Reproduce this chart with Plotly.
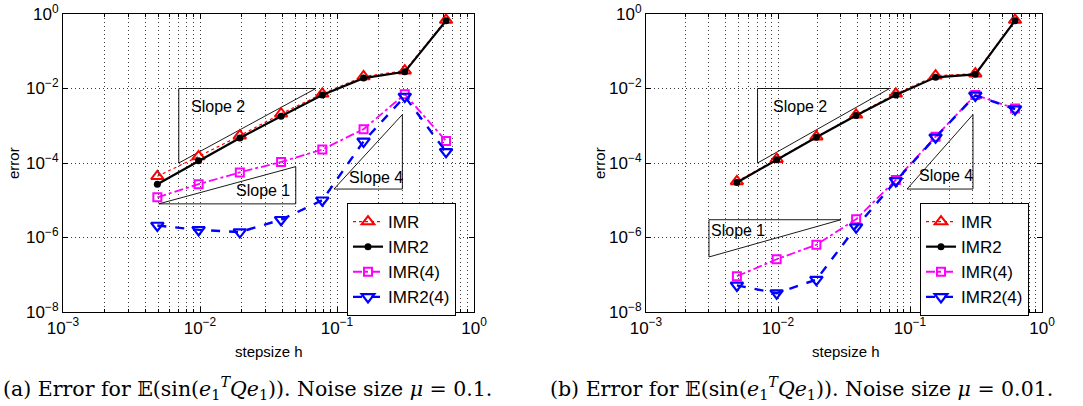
import math
import plotly.graph_objects as go

# ---- data ----
h = [0.625 / 2 ** k for k in range(7, -1, -1)]  # stepsizes 0.0049 ... 0.625

a_imr = [4.4e-5, 1.5e-4, 5.4e-4, 2.1e-3, 7.2e-3, 2.1e-2, 3.0e-2, 0.69]
a_imr2 = [2.7e-5, 1.15e-4, 4.7e-4, 1.8e-3, 6.7e-3, 1.9e-2, 2.8e-2, 0.66]
a_imr4 = [1.2e-5, 2.7e-5, 5.6e-5, 1.07e-4, 2.3e-4, 8.1e-4, 7.0e-3, 3.9e-4]
a_imr24 = [2.1e-6, 1.6e-6, 1.4e-6, 3.0e-6, 1.0e-5, 3.8e-4, 6.1e-3, 2.0e-4]

b_imr = [3.2e-5, 1.27e-4, 5.1e-4, 1.96e-3, 7.2e-3, 2.2e-2, 2.5e-2, 0.69]
b_imr2 = [3.0e-5, 1.22e-4, 4.9e-4, 1.88e-3, 6.7e-3, 2.0e-2, 2.4e-2, 0.66]
b_imr4 = [9.1e-8, 2.6e-7, 6.4e-7, 3.1e-6, 3.5e-5, 5.1e-4, 6.7e-3, 2.9e-3]
b_imr24 = [5.2e-8, 3.2e-8, 7.4e-8, 1.9e-6, 3.3e-5, 4.9e-4, 6.5e-3, 2.8e-3]

# reference slope triangles (data coordinates)
slope2_x = [0.007, 0.07, 0.007, 0.007]
slope2_y = [1e-4, 1e-2, 1e-2, 1e-4]
a_slope1_x = [0.005, 0.05, 0.05, 0.005]
a_slope1_y = [8e-6, 8e-5, 8e-6, 8e-6]
slope4_x = [0.095, 0.3, 0.3, 0.095]
slope4_y = [2e-5, 2e-3, 2e-5, 2e-5]
b_slope1_x = [0.003, 0.03, 0.003, 0.003]
b_slope1_y = [3e-7, 3e-6, 3e-6, 3e-7]

# slope label anchor points (data coordinates)
a_slope_labels = [("Slope 2", 0.0135, 3.2e-3), ("Slope 1", 0.0288, 1.8e-5), ("Slope 4", 0.193, 4.0e-5)]
b_slope_labels = [("Slope 2", 0.0148, 3.2e-3), ("Slope 1", 0.0050, 1.55e-6), ("Slope 4", 0.188, 4.7e-5)]

x_ticks = [1e-3, 1e-2, 1e-1, 1]
x_ticktext = ["10<sup>−3</sup>", "10<sup>−2</sup>", "10<sup>−1</sup>", "10<sup>0</sup>"]
x_minor = [m * 10 ** e for e in (-3, -2, -1) for m in range(2, 10)]
y_ticks = [1e-8, 1e-6, 1e-4, 1e-2, 1]
y_ticktext = ["10<sup>−8</sup>", "10<sup>−6</sup>", "10<sup>−4</sup>", "10<sup>−2</sup>", "10<sup>0</sup>"]

names = ["IMR", "IMR2", "IMR(4)", "IMR2(4)"]
captions = [
    "(a) Error for 𝔼(sin(<i>e</i><sub>1</sub><sup><i>T</i></sup><i>Qe</i><sub>1</sub>)). Noise size <i>μ</i> = 0.1.",
    "(b) Error for 𝔼(sin(<i>e</i><sub>1</sub><sup><i>T</i></sup><i>Qe</i><sub>1</sub>)). Noise size <i>μ</i> = 0.01.",
]

# ---- styles ----
SANS = "Liberation Sans, Arial, sans-serif"
styles = [
    dict(line=dict(color="#ff0000", width=1.2, dash="dot"),
         marker=dict(symbol="triangle-up-open", size=11, color="#ff0000", line=dict(width=2))),
    dict(line=dict(color="#000000", width=2.2, dash="solid"),
         marker=dict(symbol="circle", size=7, color="#000000")),
    dict(line=dict(color="#ff00ff", width=1.8, dash="dashdot"),
         marker=dict(symbol="square-open", size=8, color="#ff00ff", line=dict(width=2))),
    dict(line=dict(color="#0000ff", width=2.4, dash="dash"),
         marker=dict(symbol="triangle-down-open", size=11, color="#0000ff", line=dict(width=2.2))),
]

fig = go.Figure()

panels = [
    ("x", "y", "legend", [a_imr, a_imr2, a_imr4, a_imr24],
     [(slope2_x, slope2_y), (a_slope1_x, a_slope1_y), (slope4_x, slope4_y)], a_slope_labels),
    ("x2", "y2", "legend2", [b_imr, b_imr2, b_imr4, b_imr24],
     [(slope2_x, slope2_y), (b_slope1_x, b_slope1_y), (slope4_x, slope4_y)], b_slope_labels),
]

for xa, ya, leg, series, tris, labels in panels:
    for tx, ty in tris:
        fig.add_trace(go.Scatter(x=tx, y=ty, mode="lines", xaxis=xa, yaxis=ya,
                                 line=dict(color="black", width=0.9), showlegend=False,
                                 hoverinfo="skip"))
    for name, ys, st in zip(names, series, styles):
        fig.add_trace(go.Scatter(x=h, y=ys, name=name, mode="lines+markers", xaxis=xa, yaxis=ya,
                                 legend=leg, **st))
    for txt, lx, ly in labels:
        fig.add_annotation(text=txt, x=math.log10(lx), y=math.log10(ly), xref=xa, yref=ya,
                           xanchor="center", yanchor="middle",
                           showarrow=False, font=dict(size=16, color="black", family=SANS))

grid_style = dict(showgrid=True, gridcolor="#3a3a3a", griddash="1px,3px", gridwidth=1)
axis_common = dict(type="log", showline=True, linecolor="black", linewidth=1.2, mirror="allticks",
                   ticks="inside", ticklen=5, tickcolor="black", zeroline=False, automargin=False,
                   tickmode="array",
                   tickfont=dict(size=17, color="black", family=SANS), **grid_style)
x_minor_cfg = dict(tickmode="array", tickvals=x_minor, ticks="inside", ticklen=3,
                   tickcolor="black", **grid_style)

xd1 = [63 / 1083, 474 / 1083]
xd2 = [646 / 1083, 1042 / 1083]
yd = [(406 - 312) / 406, (406 - 14) / 406]

leg_common = dict(xanchor="left", yanchor="top", bordercolor="black", borderwidth=1, bgcolor="white",
                  font=dict(size=17, family=SANS), tracegroupgap=0, itemwidth=30)

fig.update_layout(
    width=1083, height=406, margin=dict(l=0, r=0, t=0, b=0, autoexpand=False),
    paper_bgcolor="white", plot_bgcolor="white",
    font=dict(family=SANS, color="black"),
    xaxis=dict(domain=xd1, range=[-3, 0], tickvals=x_ticks, ticktext=x_ticktext, anchor="y",
               minor=x_minor_cfg, **axis_common),
    yaxis=dict(domain=yd, range=[-8, 0], tickvals=y_ticks, ticktext=y_ticktext, anchor="x", **axis_common),
    xaxis2=dict(domain=xd2, range=[-3, 0], tickvals=x_ticks, ticktext=x_ticktext, anchor="y2",
                minor=x_minor_cfg, **axis_common),
    yaxis2=dict(domain=yd, range=[-8, 0], tickvals=y_ticks, ticktext=y_ticktext, anchor="x2", **axis_common),
    legend=dict(x=347 / 1083, y=(406 - 203) / 406, **leg_common),
    legend2=dict(x=920 / 1083, y=(406 - 203) / 406, **leg_common),
    showlegend=True,
)

# axis titles
for xc, yc in [(13, 163), (599, 163)]:
    fig.add_annotation(text="error", x=xc / 1083, y=(406 - yc) / 406, xref="paper", yref="paper",
                       xanchor="center", yanchor="middle",
                       showarrow=False, textangle=-90, font=dict(size=15))
for xc in [269, 846]:
    fig.add_annotation(text="stepsize h", x=xc / 1083, y=(406 - 351) / 406, xref="paper", yref="paper",
                       xanchor="center", yanchor="middle",
                       showarrow=False, font=dict(size=15))

# captions
for cap, xc in zip(captions, [1, 548]):
    fig.add_annotation(text=cap, x=xc / 1083, y=(406 - 388) / 406, xref="paper", yref="paper",
                       xanchor="left", yanchor="middle", showarrow=False,
                       font=dict(size=20.5, family="DejaVu Serif, Liberation Serif, serif"))

fig.write_html("out.html", config={"displayModeBar": False},
               post_script="document.body.style.margin='0';")
